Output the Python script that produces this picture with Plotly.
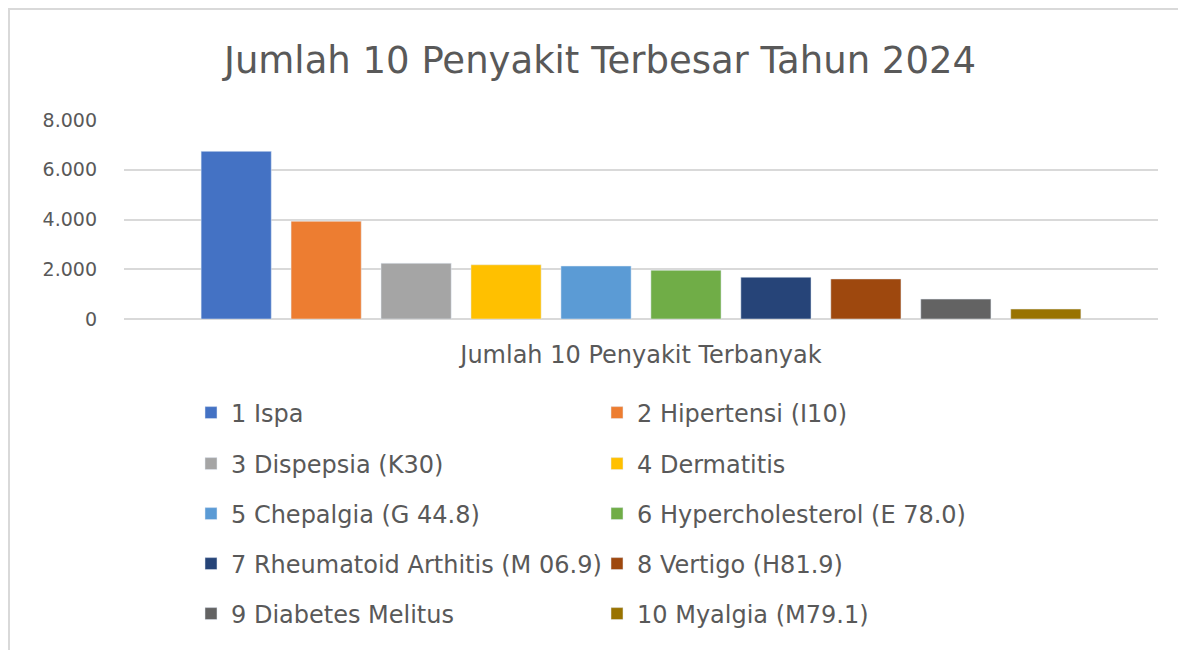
import plotly.graph_objects as go

# data
category = "Jumlah 10 Penyakit Terbanyak"
penyakit = [
    "1 Ispa", "2 Hipertensi (I10)", "3 Dispepsia (K30)", "4 Dermatitis",
    "5 Chepalgia (G 44.8)", "6 Hypercholesterol (E 78.0)",
    "7 Rheumatoid Arthitis (M 06.9)", "8 Vertigo (H81.9)",
    "9 Diabetes Melitus", "10 Myalgia (M79.1)",
]
jumlah = [6740, 3930, 2240, 2180, 2130, 1960, 1680, 1610, 800, 400]
y_ticks = [0, 2000, 4000, 6000, 8000]

colors = ["#4472C4", "#ED7D31", "#A5A5A5", "#FFC000", "#5B9BD5",
          "#70AD47", "#264478", "#9E480E", "#636363", "#997300"]

text_color = "#595959"
font_name = "DejaVu Sans"

# the page body has an 8px margin, so the figure is 8px smaller
# and positions below are given in page pixels, shifted by OFF
OFF = 8
W, H = 1186 - OFF, 650 - OFF
L, T = 124 - OFF, 120 - OFF
pw, ph = 1034, 199
R, B = W - L - pw, H - T - ph


def px_x(x):
    return (x - OFF - L) / pw


def px_y(y):
    return (T + ph - (y - OFF)) / ph


fig = go.Figure()

# one legend per row, two entries each
row_y = [413, 464, 514, 564, 614]
for i, (name, val) in enumerate(zip(penyakit, jumlah)):
    row = i // 2
    lg = "legend" if row == 0 else f"legend{row + 1}"
    fig.add_trace(go.Bar(
        x=[category],
        y=[val],
        name=name,
        marker=dict(color=colors[i]),
        legend=lg,
    ))

legend_style = dict(
    orientation="h",
    xanchor="left",
    yanchor="middle",
    x=px_x(191),
    entrywidth=361,
    entrywidthmode="pixels",
    font=dict(family=font_name, size=24, color=text_color),
    bgcolor="rgba(0,0,0,0)",
    traceorder="normal",
)
layout_legends = {}
for row, yy in enumerate(row_y):
    key = "legend" if row == 0 else f"legend{row + 1}"
    layout_legends[key] = dict(legend_style, y=px_y(yy))

fig.update_layout(
    width=W,
    height=H,
    margin=dict(l=L, r=R, t=T, b=B, autoexpand=False),
    paper_bgcolor="white",
    plot_bgcolor="white",
    separators=",.",
    barmode="group",
    bargap=0.13,
    bargroupgap=0.22,
    showlegend=True,
    title=dict(
        text="Jumlah 10 Penyakit Terbesar Tahun 2024",
        x=(600 - OFF) / W,
        xref="container",
        xanchor="center",
        y=1 - (60 - OFF) / H,
        yref="container",
        yanchor="middle",
        font=dict(family=font_name, size=37, color=text_color),
    ),
    xaxis=dict(
        showgrid=False,
        showline=False,
        zeroline=False,
        ticks="",
        ticklabelstandoff=19,
        tickfont=dict(family=font_name, size=24, color=text_color),
    ),
    yaxis=dict(
        range=[0, 8000],
        tickvals=y_ticks,
        tickformat=",d",
        showgrid=True,
        gridcolor="#D9D9D9",
        gridwidth=1.5,
        zeroline=True,
        zerolinecolor="#D9D9D9",
        zerolinewidth=1.5,
        showline=False,
        ticks="",
        ticklabelstandoff=26,
        tickfont=dict(family=font_name, size=19, color=text_color),
    ),
    shapes=[
        # chart frame (only top and left edges are visible in the crop)
        dict(type="rect", xref="paper", yref="paper",
             x0=px_x(9), x1=px_x(1260), y0=px_y(720), y1=px_y(9),
             line=dict(color="#D9D9D9", width=2), layer="below"),
    ],
    **layout_legends,
)

fig.write_html("out.html")
